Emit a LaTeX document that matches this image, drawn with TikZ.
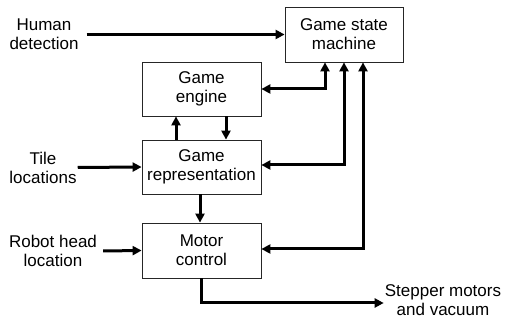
\documentclass[tikz,border=0pt]{standalone}
\usepackage{fontspec}
\setmainfont{Liberation Sans}
\usetikzlibrary{arrows.meta}
\begin{document}
\begin{tikzpicture}[x=1pt,y=-1pt,
  font=\fontsize{17}{19}\selectfont,
  block/.style={draw=black!85,line width=0.8pt,fill=white,align=center,
    minimum width=119pt,minimum height=55pt,inner sep=2pt},
  lbl/.style={align=center,inner sep=0pt},
  arr/.style={line width=3pt,-{Triangle[length=9pt,width=9pt]}},
  biarr/.style={line width=3pt,{Triangle[length=9pt,width=9pt]}-{Triangle[length=9pt,width=9pt]}}]
\useasboundingbox (0,0) rectangle (507,320);

% processing blocks
\node[block,minimum width=118pt] (gsm) at (344,34.5) {Game state\\machine};
\node[block,minimum height=54pt] (eng) at (201.5,89) {Game\\engine};
\node[block,minimum height=54pt] (rep) at (201.5,167) {Game\\representation};
\node[block] (mot) at (201.5,250.5) {Motor\\control};

% inputs and output
\node[lbl] (hd) at (44,34.5) {Human\\detection};
\node[lbl] (tl) at (43,167.5) {Tile\\locations};
\node[lbl] (rh) at (53,251) {Robot head\\location};
\node[lbl] (sm) at (443,300) {Stepper motors\\and vacuum};

% inputs
\draw[arr] (hd.east) ++(8,0) -- (gsm.west);
\draw[arr] (tl.east) ++(1,0) -- (rep.west);
\draw[arr] (rh.east) ++(6,0) -- (mot.west);

% engine <-> representation
\draw[arr] ([xshift=-25.5pt]rep.north) -- ([xshift=-25.5pt]eng.south);
\draw[arr] ([xshift=24.5pt]eng.south) -- ([xshift=24.5pt]rep.north);
\draw[arr] ([xshift=-1.5pt]rep.south) -- ([xshift=-1.5pt]mot.north);

% state machine links
\draw[biarr] (eng.east) -| ([xshift=-19pt]gsm.south);
\draw[biarr] ([yshift=2pt]rep.east) -| (gsm.south);
\draw[biarr] ([yshift=1.5pt]mot.east) -| ([xshift=19pt]gsm.south);

% output
\draw[arr] (mot.south) |- ([xshift=-1pt,yshift=-3pt]sm.west);
\end{tikzpicture}
\end{document}
